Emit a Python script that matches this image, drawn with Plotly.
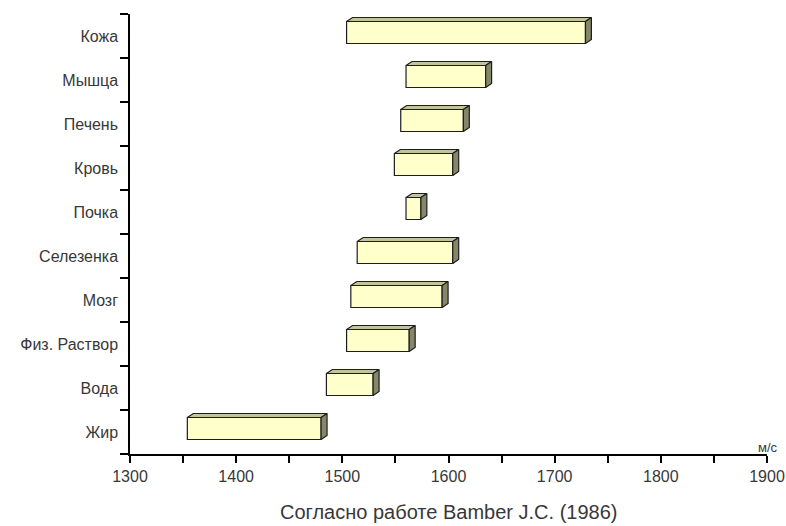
import plotly.graph_objects as go

# Data (bottom to top)
categories = ["Жир", "Вода", "Физ. Раствор", "Мозг", "Селезенка",
              "Почка", "Кровь", "Печень", "Мышца", "Кожа"]
speed_min = [1354, 1485, 1504, 1508, 1514, 1560, 1549, 1555, 1560, 1504]
speed_max = [1480, 1529, 1563, 1594, 1604, 1574, 1604, 1614, 1635, 1729]
x_ticks = [1300, 1400, 1500, 1600, 1700, 1800, 1900]

pos = list(range(len(categories)))
BAR_W = 0.5
BAR_SHIFT = 0.08          # bars sit a bit above band centre
DX = 5.6                  # 3D depth in x units
DY = 0.09                 # 3D depth in y units

FRONT = "#FFFFCC"
TOP = "#C4C49C"
SIDE = "#86866A"
EDGE = "#1E1E1E"
TXT = "#383838"
FONT = "Liberation Sans, Arial, sans-serif"

fig = go.Figure()

fig.add_trace(go.Bar(
    y=pos, x=[b - a for a, b in zip(speed_min, speed_max)], base=speed_min,
    orientation="h", width=BAR_W, offset=BAR_SHIFT - BAR_W / 2,
    marker=dict(color=FRONT, line=dict(color=EDGE, width=1.2)),
    hoverinfo="skip", showlegend=False,
))

top_x, top_y, side_x, side_y = [], [], [], []
for p, a, b in zip(pos, speed_min, speed_max):
    y0 = p + BAR_SHIFT - BAR_W / 2
    y1 = p + BAR_SHIFT + BAR_W / 2
    top_x += [a, b, b + DX, a + DX, a, None]
    top_y += [y1, y1, y1 + DY, y1 + DY, y1, None]
    side_x += [b, b + DX, b + DX, b, b, None]
    side_y += [y0, y0 + DY, y1 + DY, y1, y0, None]

fig.add_trace(go.Scatter(x=top_x, y=top_y, mode="lines", fill="toself",
                         fillcolor=TOP, line=dict(color=EDGE, width=1.2),
                         hoverinfo="skip", showlegend=False))
fig.add_trace(go.Scatter(x=side_x, y=side_y, mode="lines", fill="toself",
                         fillcolor=SIDE, line=dict(color=EDGE, width=1.2),
                         hoverinfo="skip", showlegend=False))

fig.update_layout(
    width=786, height=526,
    margin=dict(l=130, r=19, t=14, b=72),
    paper_bgcolor="white", plot_bgcolor="white",
    font=dict(family=FONT, size=16, color=TXT),
    xaxis=dict(
        range=[1300, 1900], tickvals=x_ticks, ticktext=[str(v) for v in x_ticks],
        automargin=False,
        showgrid=False, zeroline=False, showline=True, linecolor="#000", linewidth=1.5,
        ticks="outside", ticklen=7, tickcolor="#000", tickwidth=1.5,
        tickfont=dict(size=16, color=TXT),
        minor=dict(dtick=50, tick0=1300, ticks="outside", ticklen=7,
                   tickcolor="#000", tickwidth=1.5, showgrid=False),
    ),
    yaxis=dict(
        range=[-0.5, len(categories) - 0.5],
        tickvals=pos, ticktext=categories, automargin=False,
        showgrid=False, zeroline=False, showline=True, linecolor="#000", linewidth=1.5,
        ticks="outside", ticklen=0, tickcolor="rgba(0,0,0,0)",
        ticklabelstandoff=7,
        tickfont=dict(size=16, color=TXT),
        minor=dict(tickvals=[p - 0.5 for p in pos] + [len(categories) - 0.5],
                   ticks="outside", ticklen=8, tickcolor="#000", tickwidth=1.5,
                   showgrid=False),
    ),
    annotations=[
        dict(text="Согласно работе Bamber J.C. (1986)", xref="paper", yref="paper",
             x=0.5, y=0, yanchor="bottom", xanchor="center", yshift=-71,
             showarrow=False, font=dict(size=20, color=TXT)),
        dict(text="м/с", xref="x", yref="paper", x=1900, y=0,
             xanchor="center", yanchor="bottom", yshift=-3, xshift=1,
             showarrow=False, font=dict(size=13, color=TXT)),
    ],
)

fig.write_html("out.html")
